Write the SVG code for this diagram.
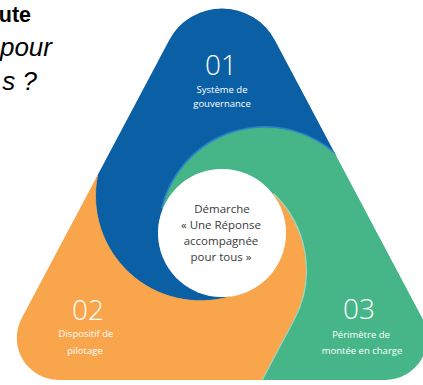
<svg xmlns="http://www.w3.org/2000/svg" width="423" height="385" viewBox="0 0 423 385">
  <defs>
    <!-- rounded triangle outline shared by the three lobes -->
    <clipPath id="tri">
      <path d="M169.0,40.38 A60,60 0 0 1 275.02,40.38 L422.31,318.33 A42,42 0 0 1 385.2,380 L58.8,380 A42,42 0 0 1 21.69,318.33 Z"/>
    </clipPath>
    <style>
      .title { font-family: "Liberation Sans", Arial, sans-serif; fill: #000; }
      .num { font-family: "Open Sans", "Lato", sans-serif; font-weight: 300; font-size: 28px; fill: #fff; text-anchor: middle; }
      .lbl { font-family: "Open Sans", "Lato", sans-serif; font-size: 9.5px; fill: #fff; text-anchor: middle; }
      .mid { font-family: "Open Sans", "Lato", sans-serif; font-size: 11.5px; fill: #3a3a3a; text-anchor: middle; }
      .blue { fill: #0b5fa5; stroke: #0b5fa5; stroke-width: 0.8; }
      .green { fill: #46b688; stroke: #46b688; stroke-width: 0.8; }
      .orange { fill: #f9a54b; stroke: #f9a54b; stroke-width: 0.8; }
    </style>
  </defs>

  <!-- heading, cut by the left border -->
  <g id="heading">
    <text class="title" x="31" y="22" font-size="21.5" font-weight="bold" text-anchor="end">ute</text>
    <text class="title" x="52" y="56" font-size="26" font-style="italic" text-anchor="end">pour</text>
    <text class="title" x="37" y="90" font-size="26" font-style="italic" text-anchor="end">s ?</text>
  </g>

  <g clip-path="url(#tri)">
    <!-- 01 : top lobe and left band -->
    <g id="node-01">
      <path class="blue" d="M97.52,175.24 L169.0,40.38 A60,60 0 0 1 275.02,40.38 L336.18,155.81 A105,105 0 0 0 162.9,208.4 A64,64 0 0 0 230.24,296.47 A105,105 0 0 1 97.52,175.24 Z"/>
      <text class="num" x="221" y="75">01</text>
      <text class="lbl" x="222" y="93">Système de</text>
      <text class="lbl" x="222" y="107">gouvernance</text>
    </g>

    <!-- 03 : bottom-right lobe and upper band -->
    <g id="node-03">
      <path d="M162.9,208.4 A105,105 0 0 1 336.18,155.81" fill="none" stroke="#2b82c9" stroke-width="4"/>
      <path class="green" d="M162.9,208.4 A105,105 0 0 1 336.18,155.81 L422.31,318.33 A42,42 0 0 1 385.2,380 L261.17,380 L293.28,319.41 A105,105 0 0 0 272.84,194.12 A64,64 0 0 0 162.9,208.4 Z"/>
      <text class="num" x="359" y="318.5">03</text>
      <text class="lbl" x="361" y="337.5">Périmètre de</text>
      <text class="lbl" x="362" y="354">montée en charge</text>
    </g>

    <!-- 02 : bottom-left lobe and right band -->
    <g id="node-02">
      <path d="M272.84,194.12 A105,105 0 0 1 293.28,319.41 L261.17,380" fill="none" stroke="#9fd8bf" stroke-width="3"/>
      <path class="orange" d="M272.84,194.12 A105,105 0 0 1 293.28,319.41 L261.17,380 L58.8,380 A42,42 0 0 1 21.69,318.33 L97.52,175.24 A105,105 0 0 0 230.24,296.47 A64,64 0 0 0 272.84,194.12 Z"/>
      <text class="num" x="88" y="320">02</text>
      <text class="lbl" x="86" y="337">Dispositif de</text>
      <text class="lbl" x="85" y="354">pilotage</text>
    </g>
  </g>

  <!-- central disc -->
  <g id="center">
    <circle cx="222" cy="233" r="64" fill="#ffffff"/>
    <text class="mid" x="222" y="213">Démarche</text>
    <text class="mid" x="221" y="229">« Une Réponse</text>
    <text class="mid" x="221" y="245">accompagnée</text>
    <text class="mid" x="221" y="261">pour tous »</text>
  </g>
</svg>
